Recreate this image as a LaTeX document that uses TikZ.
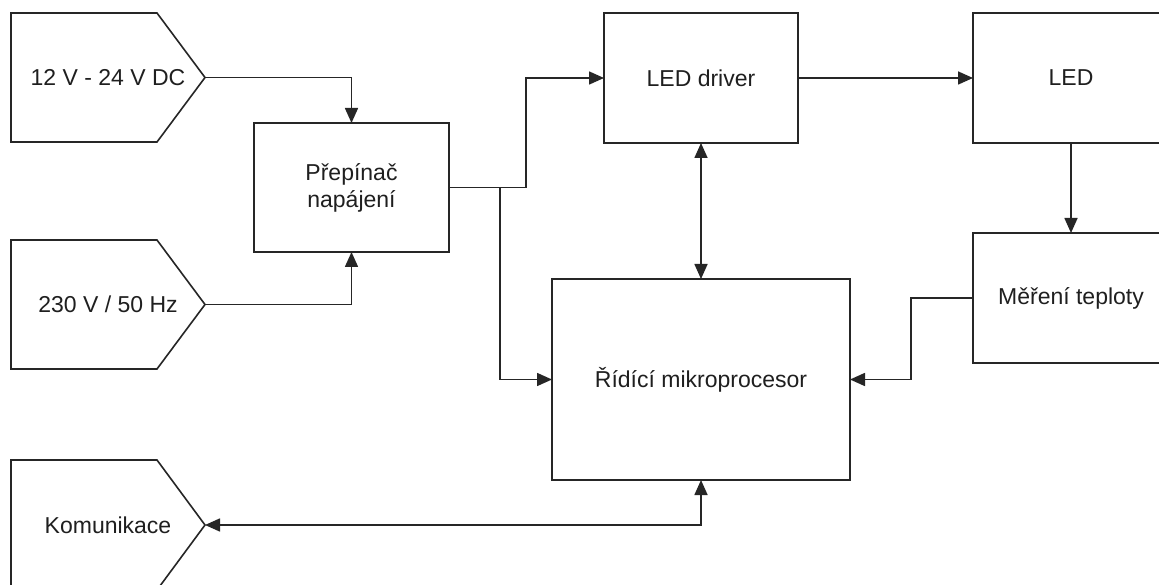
\documentclass[tikz,border=0pt]{standalone}
\usepackage{fontspec}
\setmainfont{Liberation Sans}
\usetikzlibrary{arrows.meta,calc}
\begin{document}
\begin{tikzpicture}[x=1pt,y=-1pt,
  every node/.style={font=\fontsize{23}{27}\selectfont, text=black!88, inner sep=0pt, outer sep=0pt},
  blk/.style={draw=black!85, line width=1.6pt, rectangle, align=center},
  pent/.style={rectangle, minimum width=194pt, minimum height=129pt},
  conn/.style={draw=black!85, line width=1.6pt, -{Triangle[length=15pt,width=13pt]}},
  conn2/.style={draw=black!85, line width=1.6pt, {Triangle[length=15pt,width=13pt]}-{Triangle[length=15pt,width=13pt]}},
  pline/.style={draw=black!85, line width=1.6pt, line join=miter}
]
\useasboundingbox (0,0) rectangle (1159,585);
\clip (0,0) rectangle (1159,585);
\fill[white] (0,0) rectangle (1159,585);

% input pentagons
\node[pent] (dc) at (108,77.5) {12 V - 24 V DC};
\node[pent] (ac) at (108,304.5) {230 V / 50 Hz};
\node[pent, minimum height=130pt] (kom) at (108,525) {Komunikace};
\foreach \n in {dc,ac,kom}{
  \path[pline] (\n.north west) -- ($(\n.north east)+(-48,0)$) -- (\n.east)
     -- ($(\n.south east)+(-48,0)$) -- (\n.south west) -- cycle;
}

% blocks
\node[blk, minimum width=195pt, minimum height=129pt] (pp) at (351.5,187.5) {Přepínač\\napájení};
\node[blk, minimum width=194pt, minimum height=130pt] (drv) at (701,78) {LED driver};
\node[blk, minimum width=196pt, minimum height=130pt] (led) at (1071,78) {LED};
\node[blk, minimum width=196pt, minimum height=130pt] (temp) at (1071,298) {Měření teploty};
\node[blk, minimum width=298pt, minimum height=201pt] (mcu) at (701,379.5) {Řídící mikroprocesor};

% junctions
\coordinate (j1) at (526,187.5);
\coordinate (j2) at (500,187.5);
\coordinate (j3) at (911,298);

% connectors
\draw[conn] (dc.east) -| (pp.north);
\draw[conn] (ac.east) -| (pp.south);
\draw[conn] (pp.east) -- (j1) |- (drv.west);
\draw[conn] (j2) |- (mcu.west);
\draw[conn2] (drv.south) -- (mcu.north);
\draw[conn] (drv.east) -- (led.west);
\draw[conn] (led.south) -- (temp.north);
\draw[conn] (temp.west) -- (j3) |- (mcu.east);
\draw[conn2] (kom.east) -| (mcu.south);
\end{tikzpicture}
\end{document}
